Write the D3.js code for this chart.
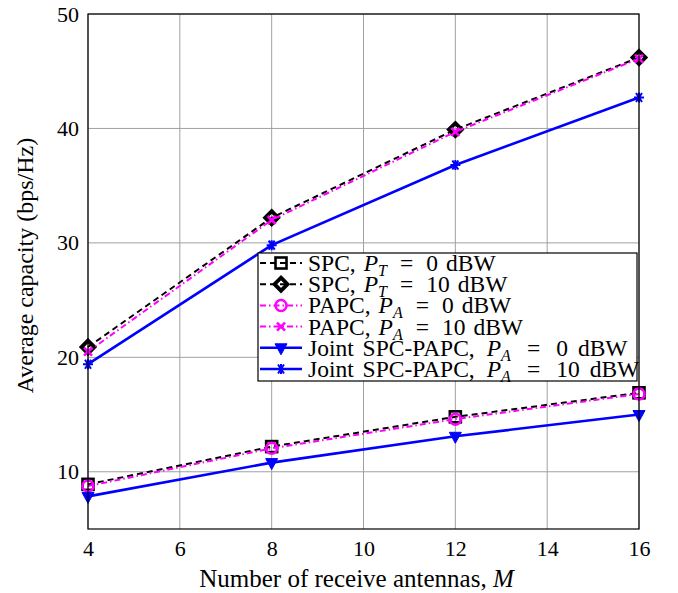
<!DOCTYPE html>
<html>
<head>
<meta charset="utf-8">
<script src="https://cdn.jsdelivr.net/npm/d3@7"></script>
<style>
  body { margin: 0; background: #fff; }
</style>
</head>
<body>
<svg id="chartSVG"></svg>
<script>
// data
let antennas = [4, 8, 12, 16];
let spc0 = [8.9, 12.2, 14.8, 16.9];
let spc10 = [20.9, 32.2, 39.9, 46.2];
let papc0 = [8.75, 12.05, 14.6, 16.8];
let papc10 = [20.5, 32.0, 39.7, 46.1];
let joint0 = [7.85, 10.8, 13.1, 15.0];
let joint10 = [19.4, 29.8, 36.8, 42.7];
let xTicks = [4, 6, 8, 10, 12, 14, 16];
let yTicks = [10, 20, 30, 40, 50];

let FONT = '"Liberation Serif", "Times New Roman", serif';
let widthSVG = 678, heightSVG = 593;
let margins = { top: 14, bottom: 64, right: 39, left: 88 };
let width = widthSVG - margins.left - margins.right;
let height = heightSVG - margins.top - margins.bottom;

let SVG = d3.select('svg#chartSVG').attr('width', widthSVG).attr('height', heightSVG)
  .style('font-family', FONT);
let SVGG = SVG.append('g').attr('transform', `translate(${margins.left}, ${margins.top})`);

let x = d3.scaleLinear().domain([4, 16]).range([0, width]);
let y = d3.scaleLinear().domain([5, 50]).range([height, 0]);

// grid
SVGG.append('g').selectAll('line').data(xTicks).enter().append('line')
  .attr('x1', d => x(d)).attr('x2', d => x(d)).attr('y1', 0).attr('y2', height)
  .style('stroke', '#a0a0a0').style('stroke-width', 1);
SVGG.append('g').selectAll('line').data(yTicks).enter().append('line')
  .attr('y1', d => y(d)).attr('y2', d => y(d)).attr('x1', 0).attr('x2', width)
  .style('stroke', '#a0a0a0').style('stroke-width', 1);

// axes
let xAxis = SVGG.append('g').attr('transform', `translate(0, ${height})`)
  .call(d3.axisBottom(x).tickValues(xTicks).tickSize(0).tickPadding(7));
let yAxis = SVGG.append('g')
  .call(d3.axisLeft(y).tickValues(yTicks).tickSize(0).tickPadding(9));
SVGG.selectAll('.domain').remove();
SVG.selectAll('.tick text').style('font-size', '22px').style('fill', '#000')
  .style('font-family', FONT);
xAxis.selectAll('.tick text').attr('dy', '0.9em');

let series = [
  { name: 'SPC,', sub: 'T', val: '0', data: spc0, color: '#000', dash: '6,4', width: 2, marker: 'square' },
  { name: 'SPC,', sub: 'T', val: '10', data: spc10, color: '#000', dash: '6,4', width: 2, marker: 'diamond' },
  { name: 'PAPC,', sub: 'A', val: '0', data: papc0, color: '#ff00ff', dash: '6,3,1.5,3', width: 2, marker: 'circle' },
  { name: 'PAPC,', sub: 'A', val: '10', data: papc10, color: '#ff00ff', dash: '6,3,1.5,3', width: 2, marker: 'cross' },
  { name: 'Joint SPC-PAPC,', sub: 'A', val: '0', data: joint0, color: '#0000ff', dash: null, width: 2.6, marker: 'tri' },
  { name: 'Joint SPC-PAPC,', sub: 'A', val: '10', data: joint10, color: '#0000ff', dash: null, width: 2.6, marker: 'star' }
];

function drawMarker(g, type, color) {
  if (type == 'square') {
    g.append('rect').attr('x', -5.5).attr('y', -5.5).attr('width', 11).attr('height', 11)
      .style('fill', 'none').style('stroke', color).style('stroke-width', 2.6);
  } else if (type == 'diamond') {
    g.append('path').attr('d', 'M0,-6.5L6.5,0L0,6.5L-6.5,0Z')
      .style('fill', 'none').style('stroke', color).style('stroke-width', 3.8);
  } else if (type == 'circle') {
    g.append('circle').attr('r', 5.5)
      .style('fill', 'none').style('stroke', color).style('stroke-width', 2.5);
  } else if (type == 'cross') {
    g.append('path').attr('d', 'M-4,-4L4,4M-4,4L4,-4')
      .style('stroke', color).style('stroke-width', 2.5);
  } else if (type == 'tri') {
    g.append('path').attr('d', 'M-6,-4L6,-4L0,7Z')
      .style('fill', color).style('stroke', color).style('stroke-width', 1);
  } else if (type == 'star') {
    g.append('path').attr('d', 'M-5,0L5,0M-3,-4.5L3,4.5M-3,4.5L3,-4.5M0,-5L0,5')
      .style('stroke', color).style('stroke-width', 2);
  }
}

let line = d3.line().x((d, i) => x(antennas[i])).y(d => y(d));

series.forEach(s => {
  SVGG.append('path').datum(s.data).attr('d', line)
    .style('fill', 'none').style('stroke', s.color).style('stroke-width', s.width)
    .style('stroke-dasharray', s.dash);
  s.data.forEach((v, i) => {
    let g = SVGG.append('g').attr('transform', `translate(${x(antennas[i])}, ${y(v)})`);
    drawMarker(g, s.marker, s.color);
  });
});

// frame
SVGG.append('rect').attr('width', width).attr('height', height)
  .style('fill', 'none').style('stroke', '#000').style('stroke-width', 1.2);

// legend
let legX = 258 - margins.left, legY = 253 - margins.top;
let legend = SVGG.append('g').attr('transform', `translate(${legX}, ${legY})`);
legend.append('rect').attr('width', 379).attr('height', 128)
  .style('fill', '#fff').style('stroke', '#000').style('stroke-width', 1.2);
let rowH = 21.2;
let items = legend.selectAll('g.item').data(series).enter().append('g')
  .classed('item', true)
  .attr('transform', (d, i) => `translate(0, ${10 + i * rowH})`);
items.append('line').attr('x1', 2).attr('x2', 44)
  .style('stroke', d => d.color).style('stroke-width', d => d.width)
  .style('stroke-dasharray', d => d.dash);
items.each(function(d) {
  let g = d3.select(this).append('g').attr('transform', 'translate(23, 0)');
  drawMarker(g, d.marker, d.color);
});
// the long entries are set a bit looser in the original
let wide = d => d.name.length > 6;
let txt = items.append('text').attr('x', 50).attr('y', 8)
  .style('font-size', '23.5px').style('word-spacing', '3px');
txt.append('tspan').text(d => d.name);
txt.append('tspan').attr('dx', d => wide(d) ? 12 : 8).style('font-style', 'italic').text('P');
txt.append('tspan').attr('dy', 5).style('font-size', '16px').style('font-style', 'italic').text(d => d.sub);
txt.append('tspan').attr('dy', -5).attr('dx', d => wide(d) ? 16 : 13).text('=');
txt.append('tspan').attr('dx', d => wide(d) ? 16 : 13).text(d => d.val);
txt.append('tspan').attr('dx', d => wide(d) ? 10 : 8).text('dBW');

// axis labels
SVG.append('text').attr('x', margins.left + width / 2 - 7).attr('y', 587)
  .style('text-anchor', 'middle').style('font-size', '25px')
  .html('Number of receive antennas, <tspan font-style="italic">M</tspan>');
SVG.append('text').attr('transform', `translate(33, ${margins.top + height / 2 - 6}) rotate(-90)`)
  .style('text-anchor', 'middle').style('font-size', '24px')
  .text('Average capacity (bps/Hz)');
</script>
</body>
</html>
